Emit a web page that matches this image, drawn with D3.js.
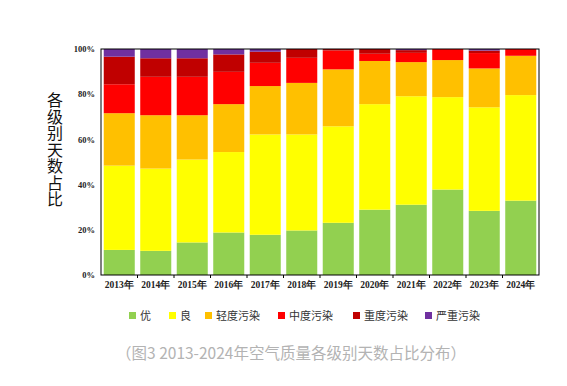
<!DOCTYPE html>
<html>
<head>
<meta charset="utf-8">
<script src="https://cdn.jsdelivr.net/npm/d3@7"></script>
<style>
  body { margin: 0; background: #fff; }
  svg { display: block; }
</style>
</head>
<body>
<svg id="chart" width="567" height="386"></svg>
<script>
const years = ["2013年","2014年","2015年","2016年","2017年","2018年","2019年","2020年","2021年","2022年","2023年","2024年"]
const levels = ["优","良","轻度污染","中度污染","重度污染","严重污染"]
const colors = ["#92D050","#FFFF00","#FFC000","#FF0000","#C00000","#7030A0"]

// percentage of days per level
const you      = [11.1, 10.7, 14.4, 18.8, 17.8, 19.7, 23.1, 28.9, 31.1, 37.8, 28.4, 32.9]
const liang    = [37.3, 36.4, 36.7, 35.6, 44.4, 42.5, 42.7, 46.7, 48.0, 40.9, 45.8, 46.7]
const qingdu   = [23.2, 23.6, 19.6, 21.2, 21.4, 22.8, 25.2, 19.1, 15.1, 16.4, 17.2, 17.4]
const zhongdu  = [12.8, 17.0, 17.0, 14.3, 10.3, 11.1,  8.3,  3.2,  4.1,  4.9,  6.8,  3.0]
const zhongdu2 = [12.2,  8.2,  8.2,  7.7,  4.9,  3.9,  0.7,  2.1,  1.2,  0.0,  1.1,  0.0]
const yanzhong = [ 3.4,  4.1,  4.1,  2.4,  1.2,  0.0,  0.0,  0.0,  0.5,  0.0,  0.7,  0.0]
const yTicks = [0, 20, 40, 60, 80, 100]

const series = [you, liang, qingdu, zhongdu, zhongdu2, yanzhong]
const table = years.map((y, i) => {
    let row = {year: y}
    levels.forEach((l, j) => { row[l] = series[j][i] })
    return row
})

const svg = d3.select("#chart")
const margin = {left: 101, right: 28, top: 49, bottom: 111}
const width = 567, height = 386

let x = d3.scaleBand()
    .domain(years)
    .range([margin.left, width - margin.right])
    .paddingInner(0.15)
    .paddingOuter(0.075)

let y = d3.scaleLinear()
    .domain([0, 100])
    .range([height - margin.bottom, margin.top])

let stack = d3.stack().keys(levels)
let layers = stack(table)

svg.append("g")
    .selectAll("g")
    .data(layers)
    .enter()
    .append("g")
    .attr("fill", (d, i) => colors[i])
    .selectAll("rect")
    .data(d => d)
    .enter()
    .append("rect")
    .attr("x", d => x(d.data.year))
    .attr("width", x.bandwidth())
    .attr("y", d => y(Math.min(100, d[1])))
    .attr("height", d => Math.max(0, y(d[0]) - y(Math.min(100, d[1]))))

// frame
svg.append("rect")
    .attr("x", margin.left)
    .attr("y", margin.top)
    .attr("width", width - margin.right - margin.left)
    .attr("height", height - margin.bottom - margin.top)
    .attr("fill", "none")
    .attr("stroke", "#000")
    .attr("stroke-width", 1)

const yAxis = svg.append("g")
    .attr("transform", `translate(${margin.left},0)`)
    .call(d3.axisLeft(y).tickValues(yTicks).tickSize(0).tickPadding(6).tickFormat(d => d + "%"))
yAxis.select(".domain").remove()
yAxis.selectAll("text")
    .attr("font-family", "Liberation Serif")
    .attr("font-weight", "bold")
    .attr("font-size", 8.5)
    .attr("fill", "#222")

// small ticks between the bars
const edges = years.slice(1).map(d => x(d) - x.step() * x.paddingInner() / 2)
svg.append("g")
    .selectAll("line")
    .data(edges)
    .enter()
    .append("line")
    .attr("x1", d => d).attr("x2", d => d)
    .attr("y1", y(0)).attr("y2", y(0) + 3)
    .attr("stroke", "#000")

const xAxis = svg.append("g")
    .attr("transform", `translate(0,${y(0)})`)
    .call(d3.axisBottom(x).tickSize(0).tickPadding(6))
xAxis.select(".domain").remove()
xAxis.selectAll("text")
    .attr("font-family", "Liberation Serif")
    .attr("font-weight", "bold")
    .attr("font-size", 9.5)
    .attr("fill", "#222")

// vertical title, upright characters
svg.append("text")
    .attr("x", 55)
    .attr("y", 92)
    .attr("font-family", "Noto Sans CJK SC")
    .attr("font-size", 16)
    .attr("fill", "#111")
    .style("writing-mode", "vertical-rl")
    .style("text-orientation", "upright")
    .style("letter-spacing", "0.5px")
    .text("各级别天数占比")

// legend
const legendX = [129, 169, 205, 278, 353, 425]
let legend = svg.append("g")
    .selectAll("g")
    .data(levels)
    .enter()
    .append("g")
    .attr("transform", (d, i) => `translate(${legendX[i]},316)`)
legend.append("rect")
    .attr("x", 0).attr("y", -4)
    .attr("width", 7).attr("height", 7)
    .attr("fill", (d, i) => colors[i])
legend.append("text")
    .attr("x", 11).attr("y", 4)
    .attr("font-family", "Noto Sans CJK SC")
    .attr("font-size", 11)
    .attr("fill", "#333")
    .text(d => d)

svg.append("text")
    .attr("x", 291)
    .attr("y", 359)
    .attr("text-anchor", "middle")
    .attr("font-family", "Noto Sans CJK SC")
    .attr("font-size", 15.5)
    .attr("fill", "#b3b3b3")
    .text("（图3 2013-2024年空气质量各级别天数占比分布）")
</script>
</body>
</html>
